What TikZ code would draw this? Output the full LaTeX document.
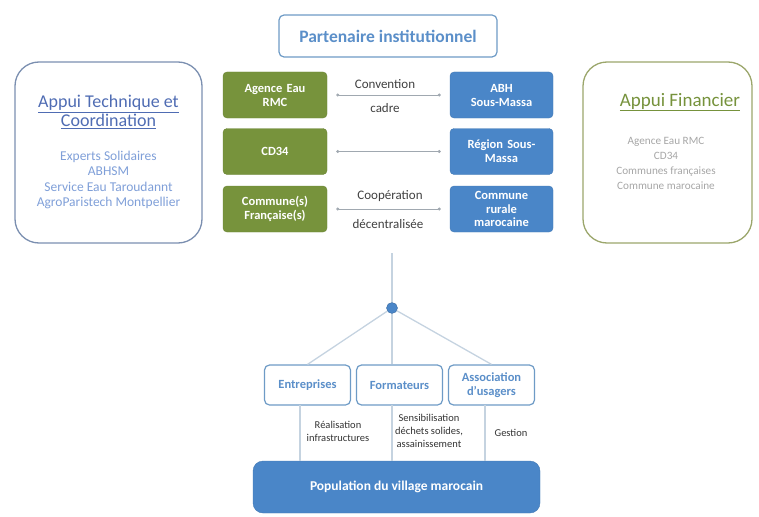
\documentclass[tikz,border=0pt]{standalone}
\usepackage{fontspec}
\setmainfont{Carlito}
\usetikzlibrary{arrows.meta}
\definecolor{olive}{HTML}{77933C}
\definecolor{bluebox}{HTML}{4A86C8}
\definecolor{partb}{HTML}{6E9BC6}
\definecolor{partt}{HTML}{5B8FC9}
\definecolor{leftb}{HTML}{7B8FB0}
\definecolor{leftt}{HTML}{4F6CB3}
\definecolor{lefti}{HTML}{7F9FD8}
\definecolor{rightb}{HTML}{9BA66B}
\definecolor{rightt}{HTML}{76923C}
\definecolor{righti}{HTML}{A6A6A6}
\definecolor{conng}{HTML}{A0A8B0}
\definecolor{linel}{HTML}{C5D3E0}
\tikzset{
  greenbox/.style={draw=olive!90!black, fill=olive, rounded corners=4pt, minimum width=104pt, minimum height=46pt, text width=100pt, align=center, text=white, font=\fontsize{12.5}{14}\selectfont\bfseries, inner sep=1pt},
  bluebx/.style={draw=bluebox!90!black, fill=bluebox, rounded corners=4pt, minimum width=103pt, minimum height=46pt, text width=100pt, align=center, text=white, font=\fontsize{12.5}{14}\selectfont\bfseries, inner sep=1pt},
  conn/.style={draw=conng, line width=0.6pt, {Circle[length=3pt]}-{Circle[length=3pt]}, shorten <=9pt, shorten >=9pt},
  lbl/.style={font=\fontsize{13}{15}\selectfont, text=black!75, inner sep=0pt},
  actor/.style={draw=partb, line width=1.2pt, fill=white, rounded corners=5pt, minimum width=85pt, minimum height=40pt, text width=84pt, align=center, text=partt, font=\fontsize{12.5}{13.5}\selectfont\bfseries, inner sep=1pt},
  tline/.style={draw=linel, line width=1.3pt},
  small/.style={font=\fontsize{10.5}{13}\selectfont, text=black!80, align=center, inner sep=0pt}
}
\begin{document}
\begin{tikzpicture}[x=1pt,y=-1pt]
\useasboundingbox (0,0) rectangle (759,516);
% title box
\node[draw=partb, line width=1.2pt, rounded corners=5pt, fill=white, minimum width=218pt, minimum height=42pt, text=partt, font=\fontsize{17.5}{19}\selectfont\bfseries] (part) at (388,36) {Partenaire institutionnel};
% side boxes
\node[draw=leftb, line width=1.3pt, rounded corners=24pt, minimum width=187pt, minimum height=181pt] (left) at (108.5,152.5) {};
\node[align=center, text=leftt, font=\fontsize{18}{19.5}\selectfont, inner sep=0pt] (lefttitle) at (108.5,112) {\underline{Appui Technique et}\\\underline{Coordination}};
\node[align=center, text=lefti, font=\fontsize{13.5}{15.2}\selectfont, inner sep=0pt] (leftitems) at (108.5,180) {Experts Solidaires\\ABHSM\\Service Eau Taroudannt\\AgroParistech Montpellier};
\node[draw=rightb, line width=1.3pt, rounded corners=24pt, minimum width=169pt, minimum height=181pt] (right) at (667.5,152.5) {};
\node[text=rightt, font=\fontsize{19}{21}\selectfont, inner sep=0pt] (righttitle) at (680,102) {\underline{Appui Financier}};
\node[align=center, text=righti, font=\fontsize{11.2}{15}\selectfont, inner sep=0pt] (rightitems) at (666,163) {Agence Eau RMC\\CD34\\Communes françaises\\Commune marocaine};
% partner rows
\node[greenbox] (agence) at (275,95) {Agence Eau\\RMC};
\node[bluebx] (abh) at (501.5,95) {ABH\\Sous-Massa};
\node[greenbox] (cd) at (275,151.5) {CD34};
\node[bluebx] (region) at (501.5,151.5) {Région Sous-\\Massa};
\node[greenbox] (comfr) at (275,209) {Commune(s)\\Française(s)};
\node[bluebx, font=\fontsize{12.5}{13.5}\selectfont\bfseries] (comma) at (501.5,209) {Commune\\rurale\\marocaine};
\draw[conn] (agence) -- (abh);
\draw[conn] (cd) -- (region);
\draw[conn] (comfr) -- (comma);
\node[lbl] (l1) at (385,84) {Convention};
\node[lbl] (l2) at (385,108) {cadre};
\node[lbl] (l3) at (390,196) {Coopération};
\node[lbl] (l4) at (388,224) {décentralisée};
% tree
\coordinate (top) at (392,253);
\node[circle, fill=bluebox, draw=bluebox!80!black, minimum size=11pt, inner sep=0pt] (dot) at (392,308) {};
\node[actor] (ent) at (307.5,385) {Entreprises};
\node[actor] (form) at (399.5,385) {Formateurs};
\node[actor] (assoc) at (491.5,385) {Association\\d'usagers};
\draw[tline] (top) -- (dot);
\draw[tline] (dot) -- (ent.north);
\draw[tline] (dot) -- (dot |- form.north);
\draw[tline] (dot) -- (assoc.north);
\node[draw=bluebox!90!black, fill=bluebox, rounded corners=10pt, minimum width=287pt, minimum height=52pt, text=white, font=\fontsize{13.5}{15}\selectfont\bfseries] (pop) at (396.5,487) {Population du village marocain};
\coordinate (e1) at (300,405);
\coordinate (f1) at (392,405);
\coordinate (a1) at (485,405);
\draw[tline] (e1) -- (e1 |- pop.north);
\draw[tline] (f1) -- (f1 |- pop.north);
\draw[tline] (a1) -- (a1 |- pop.north);
\node[small] (s1) at (338,431) {Réalisation\\infrastructures};
\node[small] (s2) at (429,431) {Sensibilisation\\déchets solides,\\assainissement};
\node[small] (s3) at (511,433) {Gestion};
\end{tikzpicture}
\end{document}
